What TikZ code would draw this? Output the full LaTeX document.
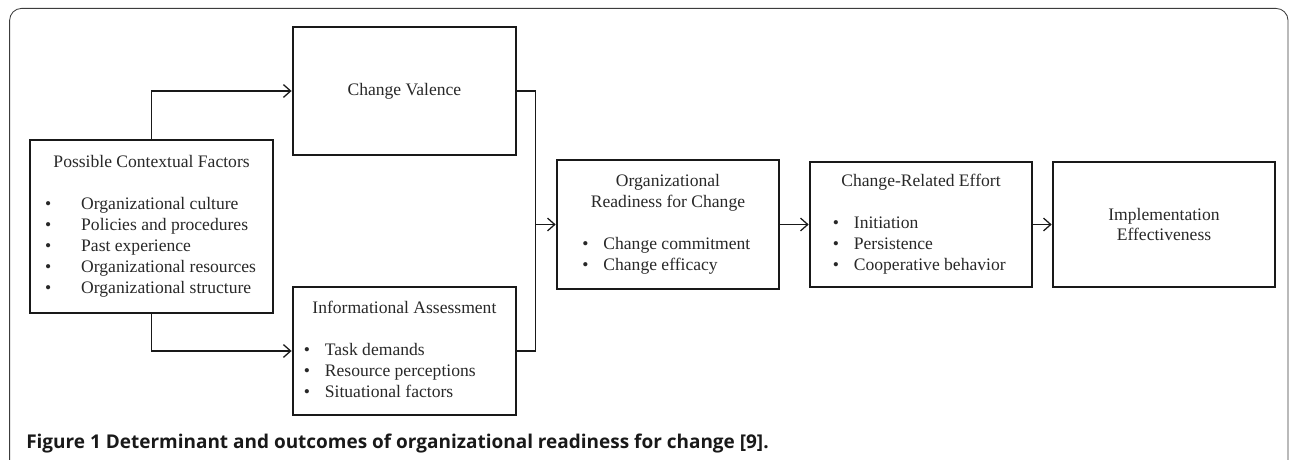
\documentclass[tikz,border=0pt]{standalone}
\usepackage{fontspec}
\setmainfont{Liberation Serif}
\newfontfamily\captionfont{Open Sans}
\usepackage{tikz}
\usetikzlibrary{arrows.meta, positioning, calc}
\definecolor{boxblack}{RGB}{25, 25, 25}
\definecolor{textgray}{RGB}{40, 40, 40}
\definecolor{framegray}{RGB}{60, 60, 60}

\begin{document}
\begin{tikzpicture}[
    box/.style={rectangle, draw=boxblack, line width=1.9pt, text=textgray, font=\fontsize{12.5}{14.9}\selectfont, inner sep=0pt, align=center},
    widebox/.style={box, minimum width=5.55cm, minimum height=3.125cm},
    arrow/.style={-{Straight Barb[length=1.8mm, width=3.2mm]}, draw=boxblack, line width=0.9pt},
    link/.style={draw=boxblack, line width=0.9pt}
]
\useasboundingbox (0,0) rectangle (32.25,-11.5);

% Frame
\draw[framegray, line width=0.6pt, rounded corners=0.3cm] (0.24,-12) -- (0.24,-0.21) -- (32.2,-0.21) -- (32.2,-12);

% Context
\node[box, minimum width=6.075cm, minimum height=4.325cm] (context) at (3.79,-5.66) {%
\begin{tabular}{@{}l@{\hspace{0.75cm}}l@{}}
\multicolumn{2}{c}{Possible Contextual Factors}\\[14.9pt]
\textbullet & Organizational culture\\
\textbullet & Policies and procedures\\
\textbullet & Past experience\\
\textbullet & Organizational resources\\
\textbullet & Organizational structure
\end{tabular}};

% Appraisals
\node[box, minimum width=5.575cm, minimum height=3.2cm] (valence) at (10.11,-2.275) {Change Valence};
\node[box, minimum width=5.575cm, minimum height=3.2cm] (info) at (10.11,-8.775) {%
\begin{tabular}{@{}l@{\hspace{0.37cm}}l@{}}
\multicolumn{2}{c}{Informational Assessment}\\[14.9pt]
\textbullet & Task demands\\
\textbullet & Resource perceptions\\
\textbullet & Situational factors
\end{tabular}};

% Readiness and outcomes
\node[widebox, minimum height=3.225cm] (readiness) at (16.7,-5.6125) {%
\begin{tabular}{@{}l@{\hspace{0.37cm}}l@{}}
\multicolumn{2}{c}{Organizational}\\
\multicolumn{2}{c}{Readiness for Change}\\[14.9pt]
\textbullet & Change commitment\\
\textbullet & Change efficacy
\end{tabular}};
\node[widebox] (effort) at (23.025,-5.6125) {%
\begin{tabular}{@{}l@{\hspace{0.37cm}}l@{}}
\multicolumn{2}{c}{Change-Related Effort}\\[14.9pt]
\textbullet & Initiation\\
\textbullet & Persistence\\
\textbullet & Cooperative behavior
\end{tabular}};
\node[widebox] (impl) at (29.1,-5.6125) {Implementation\\Effectiveness};

% Caption
\node[anchor=base west, inner sep=0pt, text=boxblack, font=\captionfont\bfseries\fontsize{13.5}{16}\selectfont] (caption) at (0.65,-11.2) {Figure 1 Determinant and outcomes of organizational readiness for change [9].};

% Arrows
\coordinate (merge) at ($(readiness.west)-(0.5,0)$);
\draw[arrow] (context.north) |- (valence.west);
\draw[arrow] (context.south) |- (info.west);
\draw[link] (valence.east) -| (merge);
\draw[link] (info.east) -| (merge);
\draw[arrow] (merge) -- (readiness.west);
\draw[arrow] (readiness) -- (effort);
\draw[arrow] (effort) -- (impl);

\end{tikzpicture}
\end{document}
